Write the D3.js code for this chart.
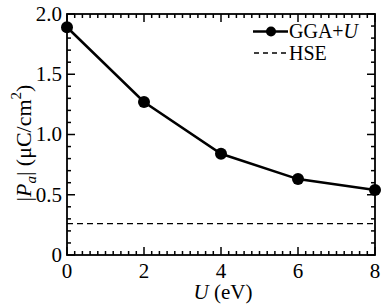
<!DOCTYPE html>
<html>
<head>
<meta charset="utf-8">
<script src="https://cdn.jsdelivr.net/npm/d3@7"></script>
<style>
  body { margin: 0; background: #fff; }
</style>
</head>
<body>
<div id="chart"></div>
<script>
let uVals = [0, 2, 4, 6, 8]
let ggaU = [1.89, 1.27, 0.84, 0.63, 0.54]
let hse = 0.26
let xTicks = [0, 2, 4, 6, 8]
let yTicks = [0, 0.5, 1.0, 1.5, 2.0]
let yTickLabels = ['0', '0.5', '1.0', '1.5', '2.0']

let w = 382,
    h = 307
let m = { left: 67, right: 7, top: 14, bottom: 52 }
let serif = '"Liberation Serif"'

let svg = d3.select('#chart')
    .append('svg')
    .attr('width', w)
    .attr('height', h)
    .style('font-family', serif)

let x = d3.scaleLinear().domain([0, 8]).range([m.left, w - m.right])
let y = d3.scaleLinear().domain([0, 2]).range([h - m.bottom, m.top])

let frame = svg.append('g')
let majLen = 8, minLen = 4

// minor + major ticks, all four sides, pointing in
let xMinor = d3.range(0, 8.001, 0.2)
let yMinor = d3.range(0, 2.001, 0.1)
xMinor.forEach(v => {
    let major = xTicks.some(t => Math.abs(t - v) < 1e-6)
    let len = major ? majLen : minLen
    frame.append('line').attr('x1', x(v)).attr('x2', x(v))
        .attr('y1', y(0)).attr('y2', y(0) - len)
    frame.append('line').attr('x1', x(v)).attr('x2', x(v))
        .attr('y1', y(2)).attr('y2', y(2) + len)
})
yMinor.forEach(v => {
    let major = yTicks.some(t => Math.abs(t - v) < 1e-6)
    let len = major ? majLen : minLen
    frame.append('line').attr('x1', x(0)).attr('x2', x(0) + len)
        .attr('y1', y(v)).attr('y2', y(v))
    frame.append('line').attr('x1', x(8)).attr('x2', x(8) - len)
        .attr('y1', y(v)).attr('y2', y(v))
})
frame.selectAll('line').attr('stroke', '#000').attr('stroke-width', 1.5)

frame.append('rect')
    .attr('x', x(0)).attr('y', y(2))
    .attr('width', x(8) - x(0)).attr('height', y(0) - y(2))
    .attr('fill', 'none').attr('stroke', '#000').attr('stroke-width', 1.8)

// tick labels
svg.selectAll('.xl')
    .data(xTicks)
    .enter()
    .append('text')
    .attr('class', 'xl')
    .text(d => d)
    .attr('x', d => x(d))
    .attr('y', 278)
    .attr('text-anchor', 'middle')
    .style('font-family', serif)
    .attr('font-size', 21)

svg.selectAll('.yl')
    .data(yTicks)
    .enter()
    .append('text')
    .attr('class', 'yl')
    .text((d, i) => yTickLabels[i])
    .attr('x', m.left - 5)
    .attr('y', d => y(d))
    .attr('dy', '0.33em')
    .attr('text-anchor', 'end')
    .style('font-family', serif)
    .attr('font-size', 21)

// axis titles
let xt = svg.append('text')
    .attr('x', x(4) + 2)
    .attr('y', 299)
    .attr('text-anchor', 'middle')
    .style('font-family', serif)
    .attr('font-size', 21)
xt.append('tspan').attr('font-style', 'italic').text('U')
xt.append('tspan').text(' (eV)')

let yt = svg.append('text')
    .attr('transform', 'translate(31,143) rotate(-90)')
    .attr('text-anchor', 'middle')
    .style('font-family', serif)
    .attr('font-size', 22)
yt.append('tspan').text('|')
yt.append('tspan').attr('font-style', 'italic').text('P')
yt.append('tspan').attr('font-style', 'italic').attr('font-size', 15).attr('dy', 5).text('a')
yt.append('tspan').attr('dy', -5).text('| (μC/cm')
yt.append('tspan').attr('font-size', 15).attr('dy', -10).text('2')
yt.append('tspan').attr('dy', 10).text(')')

// HSE dashed line
svg.append('line')
    .attr('x1', x(0)).attr('x2', x(8))
    .attr('y1', y(hse)).attr('y2', y(hse))
    .attr('stroke', '#000').attr('stroke-width', 1.3)
    .attr('stroke-dasharray', '6,4')

// GGA+U line and markers
let line = d3.line()
    .x((d, i) => x(uVals[i]))
    .y(d => y(d))

svg.append('path')
    .attr('d', line(ggaU))
    .attr('fill', 'none')
    .attr('stroke', '#000')
    .attr('stroke-width', 2.5)

svg.selectAll('circle.pt')
    .data(ggaU)
    .enter()
    .append('circle')
    .attr('class', 'pt')
    .attr('cx', (d, i) => x(uVals[i]))
    .attr('cy', d => y(d))
    .attr('r', 6)
    .attr('fill', '#000')

// legend
let lg = svg.append('g')
lg.append('line').attr('x1', 253).attr('x2', 288).attr('y1', 31.5).attr('y2', 31.5)
    .attr('stroke', '#000').attr('stroke-width', 2.5)
lg.append('circle').attr('cx', 271).attr('cy', 31.5).attr('r', 5).attr('fill', '#000')
let lt = lg.append('text').attr('x', 289).attr('y', 38).style('font-family', serif).attr('font-size', 20)
lt.append('tspan').text('GGA+')
lt.append('tspan').attr('font-style', 'italic').text('U')

lg.append('line').attr('x1', 254).attr('x2', 288).attr('y1', 53).attr('y2', 53)
    .attr('stroke', '#000').attr('stroke-width', 1.3)
    .attr('stroke-dasharray', '5,4')
lg.append('text').attr('x', 289).attr('y', 60).style('font-family', serif).attr('font-size', 20).text('HSE')
</script>
</body>
</html>
